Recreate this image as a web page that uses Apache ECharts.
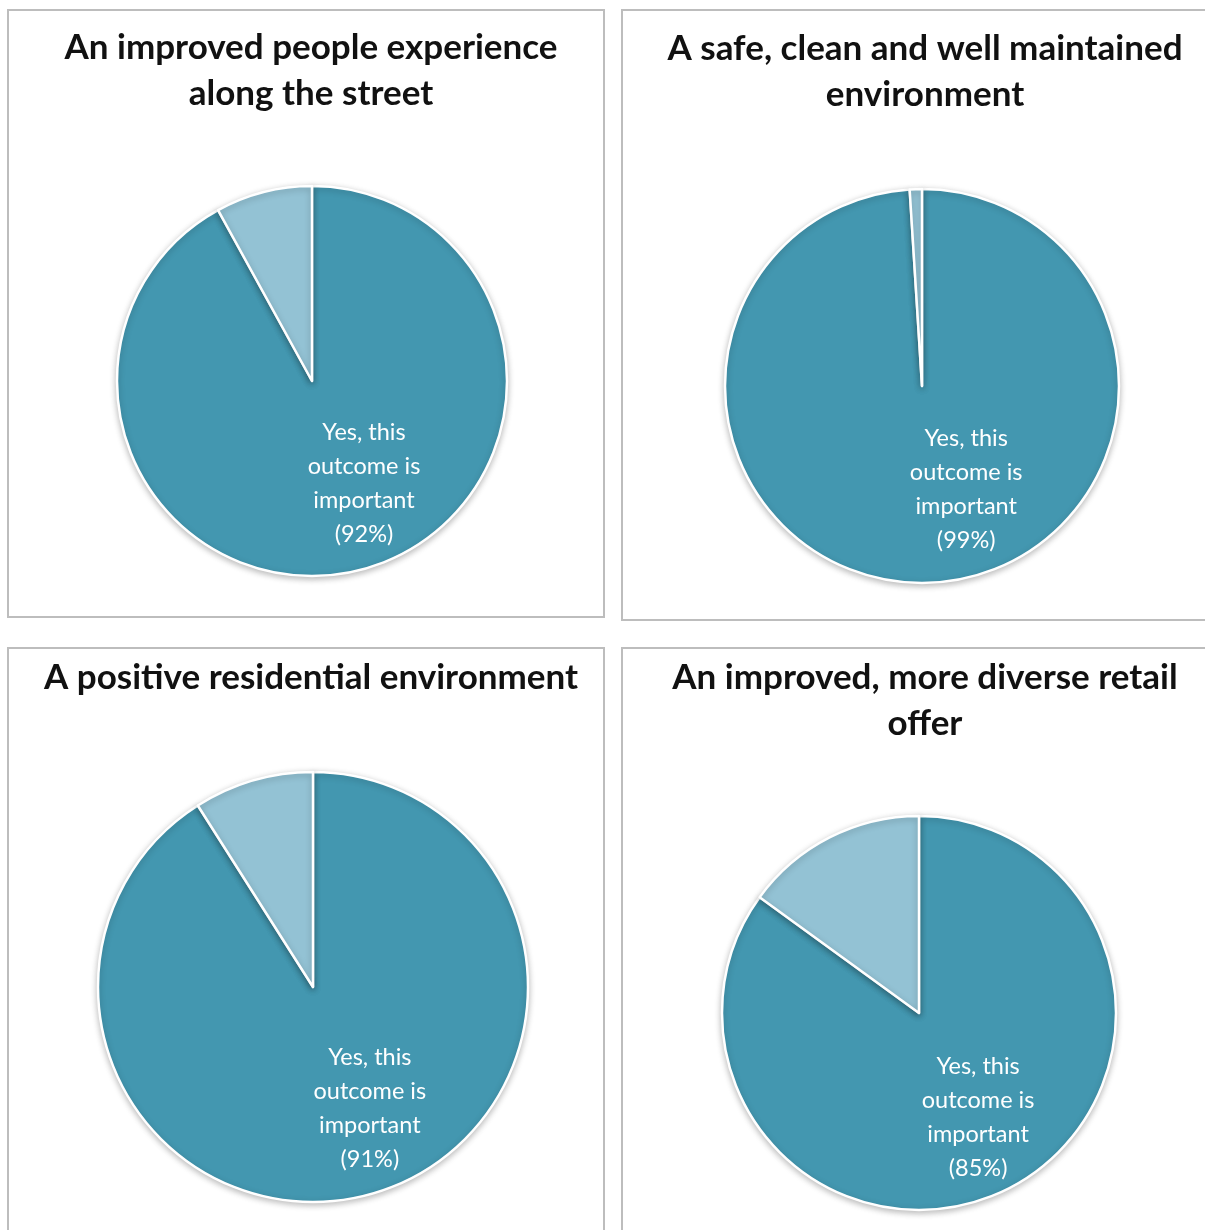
<!DOCTYPE html>
<html>
<head>
<meta charset="utf-8">
<script src="https://cdn.jsdelivr.net/npm/echarts@6/dist/echarts.min.js"></script>
<style>
  html, body {margin: 0; padding: 0; background: #fff;}
  #chart {width: 1205px; height: 1230px;}
</style>
</head>
<body>
<div id="chart"></div>
<script>
// data
const titles = [
  'An improved people experience\nalong the street',
  'A safe, clean and well maintained\nenvironment',
  'A positive residential environment',
  'An improved, more diverse retail\noffer'
];
const categories = ['Yes, this outcome is important', 'No'];
const yesValues = [92, 99, 91, 85];
const noValues = [8, 1, 9, 15];

// layout of the four panels
const panels = [
  {box: [8, 10, 596, 607], center: [312, 381], r: 195, titleY: 20, dx: 27, dy: 5},
  {box: [622, 10, 600, 610], center: [922, 386], r: 197, titleY: 21, dx: 41, dy: 2},
  {box: [8, 648, 596, 600], center: [313, 987], r: 215, titleY: 650, dx: 26, dy: 15},
  {box: [622, 648, 600, 600], center: [919, 1013], r: 197, titleY: 650, dx: 13, dy: 14}
];

const mainColor = '#4397b0';
const lightColor = '#93c2d4';

const chart = echarts.init(document.getElementById('chart'));
chart.setOption({
  animation: false,
  backgroundColor: '#fff',
  graphic: panels.map(p => ({
    type: 'rect',
    shape: {x: p.box[0], y: p.box[1], width: p.box[2], height: p.box[3]},
    style: {fill: 'none', stroke: '#bdbdbd', lineWidth: 2},
    z: -1
  })),
  title: panels.map((p, i) => ({
    text: titles[i],
    left: p.box[0] + p.box[2] / 2 - (i % 2 === 1 ? 2 : 0),
    top: p.titleY,
    textAlign: 'center',
    textStyle: {
      fontFamily: 'Lato',
      fontWeight: 'bold',
      fontSize: 35,
      lineHeight: 46,
      color: '#111'
    }
  })),
  series: panels.map((p, i) => ({
    type: 'pie',
    center: p.center,
    radius: p.r,
    startAngle: 90,
    clockwise: true,
    silent: true,
    itemStyle: {
      borderColor: '#fff',
      borderWidth: 2.5,
      shadowBlur: 6,
      shadowColor: 'rgba(0,0,0,0.25)',
      shadowOffsetY: 2
    },
    label: {
      show: true,
      position: 'inside',
      formatter: 'Yes, this\noutcome is\nimportant\n({c}%)',
      color: '#fff',
      fontFamily: 'Lato',
      fontSize: 23.5,
      lineHeight: 34,
      align: 'center'
    },
    labelLayout: {dx: p.dx, dy: p.dy},
    labelLine: {show: false},
    data: [
      {name: categories[0], value: yesValues[i], itemStyle: {color: mainColor}},
      {name: categories[1], value: noValues[i], itemStyle: {color: lightColor}, label: {show: false}}
    ]
  }))
});
</script>
</body>
</html>
